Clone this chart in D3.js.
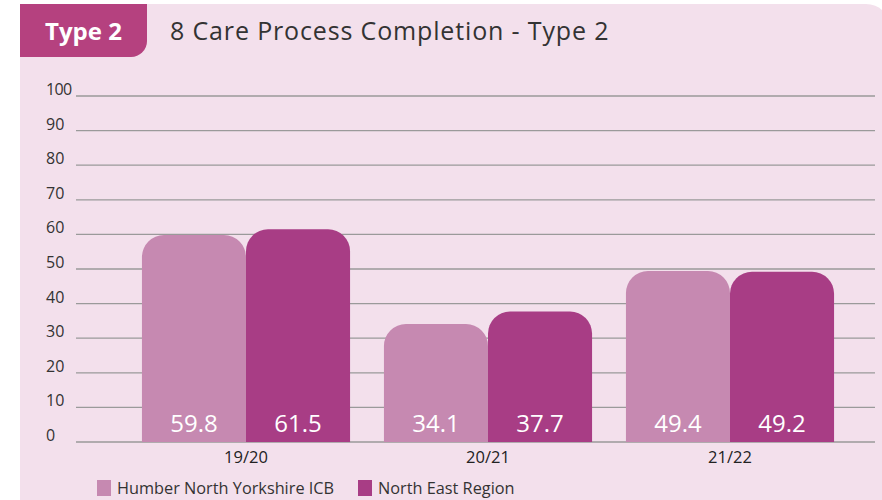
<!DOCTYPE html>
<html><head><meta charset="utf-8">
<script src="https://cdn.jsdelivr.net/npm/d3@7"></script>
<style>body{margin:0;background:#fff;}svg{display:block;}</style>
</head><body>
<svg id="c" width="882" height="500"></svg>
<script>
const categories = ["19/20", "20/21", "21/22"];
const seriesNames = ["Humber North Yorkshire ICB", "North East Region"];
const humber = [59.8, 34.1, 49.4];
const northEast = [61.5, 37.7, 49.2];
const yTicks = [0, 10, 20, 30, 40, 50, 60, 70, 80, 90, 100];
const title = "8 Care Process Completion - Type 2";
const tabLabel = "Type 2";

const colors = ["#c689b1", "#a83d85"];
const font = "'Open Sans', 'Noto Sans', sans-serif";
const svg = d3.select("#c");

// panel
const px = 20, py = 4, pw = 870, ph = 510, pr = 24;
svg.append("path")
  .attr("d", `M${px},${py} H${px+pw-pr} A${pr},${pr} 0 0 1 ${px+pw},${py+pr} V${py+ph} H${px} Z`)
  .attr("fill", "#f3e0ec");
// tab
const tw = 127, th = 53, tr = 16;
svg.append("path")
  .attr("d", `M${px},${py} H${px+tw} V${py+th-tr} A${tr},${tr} 0 0 1 ${px+tw-tr},${py+th} H${px} Z`)
  .attr("fill", "#b5417f");
svg.append("text").attr("x", 45).attr("y", 40).attr("fill", "#fff")
  .attr("font-family", font).attr("font-weight", "bold").attr("font-size", 24).text(tabLabel);
svg.append("text").attr("x", 170).attr("y", 40).attr("fill", "#333")
  .attr("font-family", font).attr("font-size", 25).attr("letter-spacing", 0.85).text(title);

const y = d3.scaleLinear().domain([0, 100]).range([442, 96]);
const x0 = d3.scaleBand().domain(categories).range([125, 851]).paddingInner(0.14).paddingOuter(0.07);
const x1 = d3.scaleBand().domain(seriesNames).range([0, x0.bandwidth()]);

// grid
const grid = svg.append("g");
grid.selectAll("line").data(yTicks).join("line")
  .attr("x1", 76).attr("x2", 875)
  .attr("y1", d => y(d)).attr("y2", d => y(d))
  .attr("stroke", "#9a9a9a").attr("stroke-width", 1.3);
grid.selectAll("text").data(yTicks).join("text")
  .attr("x", 46).attr("y", d => y(d) - 1)
  .attr("fill", "#333").attr("font-family", font).attr("font-size", 16)
  .attr("letter-spacing", d => d === 100 ? -0.6 : 0)
  .text(d => d);

const data = categories.map((c, i) => ({cat: c, vals: [humber[i], northEast[i]]}));
const r = 22;
function barPath(x, w, top, bottom) {
  const rr = Math.min(r, (bottom - top), w / 2);
  return `M${x},${bottom} V${top+rr} A${rr},${rr} 0 0 1 ${x+rr},${top} H${x+w-rr} A${rr},${rr} 0 0 1 ${x+w},${top+rr} V${bottom} Z`;
}
const groups = svg.selectAll("g.grp").data(data).join("g").attr("class", "grp")
  .attr("transform", d => `translate(${x0(d.cat)},0)`);
groups.selectAll("path").data(d => d.vals.map((v, j) => ({v, s: seriesNames[j], j})))
  .join("path")
  .attr("d", d => barPath(x1(d.s), x1.bandwidth(), y(d.v), y(0)))
  .attr("fill", d => colors[d.j]);
groups.selectAll("text.val").data(d => d.vals.map((v, j) => ({v, s: seriesNames[j], j})))
  .join("text").attr("class", "val")
  .attr("x", d => x1(d.s) + x1.bandwidth() / 2).attr("y", 432)
  .attr("text-anchor", "middle").attr("fill", "#fff")
  .attr("font-family", font).attr("font-size", 24)
  .text(d => d.v.toFixed(1));

// x axis labels
svg.selectAll("text.cat").data(categories).join("text").attr("class", "cat")
  .attr("x", d => x0(d) + x0.bandwidth() / 2).attr("y", 463)
  .attr("text-anchor", "middle").attr("fill", "#222")
  .attr("font-family", font).attr("font-size", 16.5).text(d => d);

// legend
const legX = [97, 358];
const leg = svg.selectAll("g.leg").data(seriesNames).join("g").attr("class", "leg")
  .attr("transform", (d, i) => `translate(${legX[i]},480)`);
leg.append("rect").attr("width", 14).attr("height", 16).attr("fill", (d, i) => colors[i]);
leg.append("text").attr("x", 20).attr("y", 14).attr("fill", "#333")
  .attr("font-family", font).attr("font-size", 16.3).text(d => d);
</script>
</body></html>
